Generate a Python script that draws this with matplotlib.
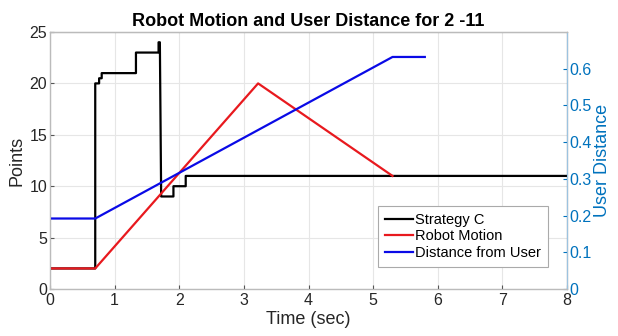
import numpy as np
import matplotlib
matplotlib.use("Agg")
import matplotlib.pyplot as plt

plt.rcParams['font.family'] = ['Liberation Sans', 'DejaVu Sans']

# strategy C points (step trace)
strat_t = [0, 0.70, 0.70, 0.76, 0.76, 0.80, 0.80, 1.33, 1.33, 1.68, 1.68, 1.70, 1.72, 1.72, 1.91, 1.91, 2.10, 2.10, 8.0]
strat_p = [2, 2, 20, 20, 20.5, 20.5, 21, 21, 23, 23, 24, 24, 9, 9, 9, 10, 10, 11, 11]

# robot motion
robot_t = [0, 0.70, 3.22, 5.30]
robot_p = [2, 2, 20, 11]

# distance from user (right axis)
dist_t = [0, 0.70, 5.30, 5.80]
dist_v = [0.192, 0.192, 0.632, 0.632]

mblue = (0, 0.447, 0.741)

fig = plt.figure(figsize=(6.18, 3.36), dpi=100)
ax = fig.add_axes([50/618, 1 - 289/336, 517/618, 257/336])
ax2 = ax.twinx()

l1, = ax.plot(strat_t, strat_p, color='black', lw=1.6, label='Strategy C')
l2, = ax.plot(robot_t, robot_p, color='#e8191e', lw=1.6, label='Robot Motion')
l3, = ax2.plot(dist_t, dist_v, color='#0a0ae6', lw=1.6, label='Distance from User')

ax.set_xlim(0, 8)
ax.set_ylim(0, 25)
ax.set_xticks(range(0, 9))
ax.set_yticks(range(0, 26, 5))
ax2.set_ylim(0, 0.7)
ax2.set_yticks(np.arange(0, 0.61, 0.1))
ax2.set_yticklabels(['0', '0.1', '0.2', '0.3', '0.4', '0.5', '0.6'])

ax.grid(True, color='#e6e6e6', lw=0.8)
ax.set_axisbelow(True)
ax.tick_params(labelsize=11.5, length=3, direction='in', color='#555555',
               labelcolor='#262626', pad=2)
ax.tick_params(axis='x', pad=3)
ax2.tick_params(labelsize=11.5, length=3, direction='in', colors=mblue, pad=2)
for s in ['top', 'left', 'bottom']:
    ax2.spines[s].set_color('#bbbbbb')
ax2.spines['right'].set_color('#9cc3e0')
ax.spines['left'].set_color('#555555')
ax.spines['bottom'].set_color('#555555')

ax.set_xlabel('Time (sec)', fontsize=13, labelpad=2, color='#262626')
ax.set_ylabel('Points', fontsize=13, labelpad=3, color='#262626')
ax2.set_ylabel('User Distance', fontsize=13, color=mblue, labelpad=1)
ax.set_title('Robot Motion and User Distance for 2 -11', fontsize=13,
             fontweight='bold', pad=4)

leg = ax2.legend(handles=[l1, l2, l3], loc='lower right',
                 bbox_to_anchor=(0.963, 0.086), borderaxespad=0,
                 fontsize=10.5, handlelength=1.9, handletextpad=0.15,
                 borderpad=0.5, labelspacing=0.15,
                 fancybox=False, framealpha=1, edgecolor='#aaaaaa')
leg.get_frame().set_linewidth(0.8)

fig.savefig('out.png', dpi=100)
